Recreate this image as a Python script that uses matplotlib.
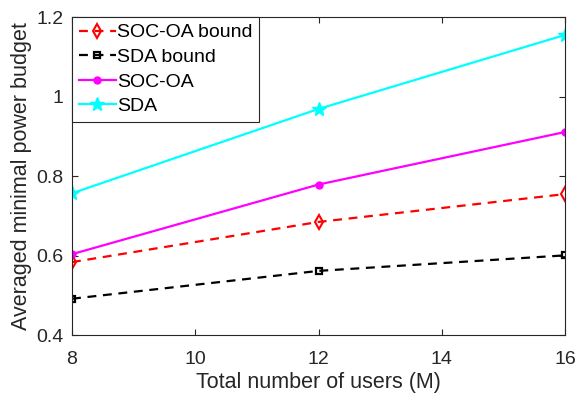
import matplotlib
matplotlib.use('Agg')
from matplotlib import pyplot as plt

plt.rcParams['font.family'] = ['Liberation Sans', 'DejaVu Sans']

users = [8, 12, 16]
soc_oa_bound = [0.584, 0.685, 0.755]
sda_bound = [0.492, 0.562, 0.601]
soc_oa = [0.604, 0.779, 0.911]
sda = [0.757, 0.969, 1.155]

fig = plt.figure(figsize=(5.78, 4.05), dpi=100)
ax = fig.add_axes([0.1246, 0.172, 0.853, 0.786])

ax.plot(users, soc_oa_bound, color='red', linestyle='--', linewidth=1.6, marker='d',
        markersize=7, markerfacecolor='none', markeredgewidth=1.5, label='SOC-OA bound', dashes=(4, 3))
ax.plot(users, sda_bound, color='black', linestyle='--', linewidth=1.6, marker='s',
        markersize=5, markerfacecolor='none', markeredgewidth=1.6, label='SDA bound', dashes=(4, 3))
ax.plot(users, soc_oa, color='magenta', linewidth=1.6, marker='o', markersize=5, label='SOC-OA')
ax.plot(users, sda, color='cyan', linewidth=1.6, marker='*', markersize=10, label='SDA')

ax.set_xlim(8, 16)
ax.set_ylim(0.4, 1.2)
ax.set_xticks([8, 10, 12, 14, 16])
ax.set_yticks([0.4, 0.6, 0.8, 1.0, 1.2])
ax.set_yticklabels(['0.4', '0.6', '0.8', '1', '1.2'])
ax.tick_params(direction='in', top=True, right=True, labelsize=14, colors='#262626', length=4)
ax.tick_params(axis='x', pad=11)
ax.tick_params(axis='y', pad=6)
for s in ax.spines.values():
    s.set_color('#262626')
    s.set_linewidth(0.8)

ax.set_xlabel('Total number of users (M)', fontsize=15.5, color='#262626', labelpad=3)
ax.set_ylabel('Averaged minimal power budget', fontsize=15.5, color='#262626', labelpad=3)

leg = ax.legend(loc='upper left', fontsize=14, fancybox=False, framealpha=1,
                edgecolor='#262626', borderaxespad=0.0, handlelength=1.9,
                handletextpad=0.05, labelspacing=0.36, borderpad=0.35)
leg.get_frame().set_linewidth(0.8)

fig.savefig('out.png', dpi=100)
